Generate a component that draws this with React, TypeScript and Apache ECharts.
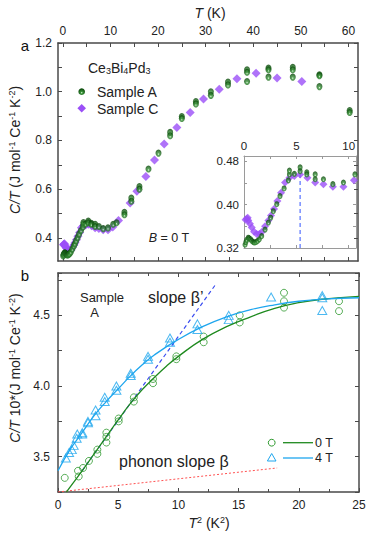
import React, { useEffect, useRef } from "react";
import * as echarts from "echarts";

// ---------- Panel a: C/T vs T (Ce3Bi4Pd3, B = 0) ----------
const lowA_T = [0.1, 0.18, 0.26, 0.41, 0.5, 0.64, 0.75, 0.89, 1.0, 1.15, 1.3, 1.46, 1.69, 2.01, 2.33, 2.55, 2.8, 3.13, 3.44, 3.83, 4.24, 4.34, 4.34, 4.81, 5.36, 5.36, 6.0, 6.0, 6.8, 6.8, 7.59, 8.49, 9.5, 10.6];
const lowA_C = [0.326, 0.331, 0.335, 0.339, 0.338, 0.336, 0.333, 0.331, 0.33, 0.331, 0.333, 0.336, 0.342, 0.354, 0.367, 0.376, 0.388, 0.401, 0.416, 0.43, 0.445, 0.456, 0.463, 0.457, 0.469, 0.462, 0.46, 0.456, 0.456, 0.447, 0.447, 0.438, 0.441, 0.456];
const lowC_T = [0.15, 0.26, 0.35, 0.41, 0.57, 0.74, 0.96, 1.21, 1.47, 1.72, 2.01, 2.33, 2.58, 2.87, 3.19, 3.54, 3.92, 4.34, 4.81, 5.36, 6.06, 6.8, 7.59, 8.49, 9.5, 10.5];
const lowC_C = [0.372, 0.374, 0.376, 0.371, 0.365, 0.358, 0.35, 0.346, 0.346, 0.35, 0.36, 0.371, 0.38, 0.392, 0.407, 0.422, 0.441, 0.45, 0.453, 0.456, 0.45, 0.441, 0.438, 0.433, 0.433, 0.445];
const highA_T = [11.3, 12.95, 12.95, 14.4, 14.4, 16.1, 16.1, 18.0, 20.1, 22.55, 22.55, 25.0, 25.0, 27.96, 27.96, 31.1, 31.1, 34.7, 34.7, 38.7, 38.7, 38.7, 43.2, 43.2, 43.2, 48.3, 48.3, 48.3, 53.9, 53.9, 53.9, 60.25, 60.25];
const highA_C = [0.462, 0.505, 0.495, 0.564, 0.55, 0.611, 0.6, 0.683, 0.748, 0.833, 0.819, 0.898, 0.89, 0.96, 0.95, 1.0, 0.985, 1.04, 1.028, 1.09, 1.08, 1.042, 1.097, 1.09, 1.06, 1.1, 1.09, 1.06, 1.07, 1.066, 1.021, 0.923, 0.915];
const highC_T = [11.7, 14.15, 15.56, 17.45, 19.27, 21.3, 23.96, 26.76, 29.56, 32.86, 36.58, 40.6, 45.0, 50.2];
const highC_C = [0.471, 0.543, 0.591, 0.652, 0.72, 0.785, 0.853, 0.915, 0.97, 1.01, 1.053, 1.076, 1.056, 1.042];
const peakT = 5.36;
const peakC = 0.465;

const topXTicks = [0, 5, 10, 15, 20, 25, 30, 35, 40, 45, 50, 55, 60];
const topXLabels = [0, 10, 20, 30, 40, 50, 60];
const topYTicks = [0.4, 0.5, 0.6, 0.7, 0.8, 0.9, 1.0, 1.1, 1.2];
const topYLabels = [0.4, 0.6, 0.8, 1.0, 1.2];
const insetXTicks = [0, 2.5, 5, 7.5, 10];
const insetXLabels = [0, 5, 10];
const insetYTicks = [0.32, 0.36, 0.4, 0.44, 0.48];
const insetYLabels = [0.32, 0.4, 0.48];

// ---------- Panel b: C/T vs T^2 (Sample A) ----------
const T2_0T = [0.56, 1.66, 1.72, 2.08, 2.57, 3.27, 3.27, 4.02, 4.02, 4.02, 5.04, 5.04, 6.3, 6.3, 7.89, 7.89, 9.83, 9.83, 12.1, 12.1, 15.09, 15.09, 18.77, 18.77, 18.77, 23.34, 23.34];
const CT_0T = [3.35, 3.4, 3.36, 3.42, 3.47, 3.52, 3.55, 3.6, 3.64, 3.67, 3.75, 3.77, 3.89, 3.92, 4.02, 4.05, 4.19, 4.21, 4.31, 4.35, 4.45, 4.5, 4.555, 4.6, 4.66, 4.53, 4.6];
const T2_4T = [0.65, 0.92, 1.15, 1.3, 1.55, 1.6, 2.0, 2.02, 2.49, 2.49, 3.12, 3.12, 3.88, 3.88, 4.85, 4.85, 6.04, 6.04, 7.48, 7.48, 9.3, 9.3, 11.58, 11.58, 14.18, 14.18, 17.7, 21.95, 21.95, 21.95];
const CT_4T = [3.49, 3.53, 3.55, 3.58, 3.63, 3.66, 3.66, 3.67, 3.74, 3.75, 3.79, 3.83, 3.89, 3.92, 3.97, 4.0, 4.075, 4.09, 4.19, 4.21, 4.31, 4.34, 4.4, 4.44, 4.47, 4.5, 4.63, 4.535, 4.625, 4.64];
const fit0T_x = [0.7, 1, 2, 3, 4, 5, 6, 7, 8, 9, 10, 12, 14, 16, 18, 20, 22, 25];
const fit0T_y = [3.25, 3.285, 3.4, 3.52, 3.64, 3.76, 3.875, 3.975, 4.06, 4.14, 4.21, 4.33, 4.42, 4.49, 4.55, 4.59, 4.615, 4.635];
const fit4T_x = [0, 1, 2, 3, 4, 5, 6, 7, 8, 10, 12, 14, 16, 18, 20, 22, 25];
const fit4T_y = [3.4, 3.55, 3.67, 3.79, 3.89, 3.98, 4.07, 4.15, 4.22, 4.33, 4.42, 4.49, 4.54, 4.575, 4.6, 4.615, 4.625];
const betaPrime_x = [2, 13.1];
const betaPrime_y = [3.4, 4.72];
const betaPhonon_x = [0, 18.2];
const betaPhonon_y = [3.25, 3.42];

const FONT = "Liberation Sans, Arial, sans-serif";
const FRAME = "#4a4a4a";
const INSET = "#9a9a9a";
const PURPLE = "#9b4ff7";
const GREEN_B = "#2f9a2f";
const BLUE_B = "#1ea6ee";

const zip = (a: number[], b: number[]) => a.map((v, i) => [v, b[i]]);

const sphere = () =>
  new echarts.graphic.RadialGradient(0.5, 0.65, 0.55, [
    { offset: 0, color: "#e6f7e0" },
    { offset: 0.3, color: "#3b963b" },
    { offset: 1, color: "#0c4d0c" },
  ]);

function axisBase(color: string, width: number) {
  return {
    axisLine: { show: true, onZero: false, lineStyle: { color, width } },
    splitLine: { show: false },
  };
}

export default function App() {
  const ref = useRef<HTMLDivElement>(null);
  useEffect(() => {
    if (!ref.current) return;
    const chart = echarts.init(ref.current, undefined, { renderer: "svg" });
    const lblStyle = { color: "#222", fontSize: 12, fontFamily: FONT };
    const tick = (vals: number[] | null, color: string, len = 4) => ({
      show: true,
      inside: true,
      length: len,
      lineStyle: { color, width: 1 },
      ...(vals ? { customValues: vals } : {}),
    });
    const allA_T = lowA_T.concat(highA_T);
    const allA_C = lowA_C.concat(highA_C);
    const allC_T = lowC_T.concat(highC_T);
    const allC_C = lowC_C.concat(highC_C);

    const supS = { fontSize: 9, fontFamily: FONT, fill: "#222", padding: [0, 0, 7, 0] };
    const subS = { fontSize: 9, fontFamily: FONT, fill: "#222", padding: [6, 0, 0, 0] };

    const option: any = {
      animation: false,
      textStyle: { fontFamily: FONT },
      grid: [
        { left: 58, top: 43, width: 300, height: 218 },
        { left: 58, top: 273, width: 301, height: 219 },
        { left: 244, top: 156, width: 112, height: 92, show: true, backgroundColor: "#fff", borderWidth: 0 },
      ],
      xAxis: [
        {
          gridIndex: 0, type: "value", position: "top", min: -1, max: 62,
          ...axisBase(FRAME, 1.5),
          axisTick: tick(topXTicks, FRAME),
          axisLabel: { ...lblStyle, margin: 6, customValues: topXLabels },
        },
        {
          gridIndex: 0, type: "value", position: "bottom", min: -1, max: 62,
          ...axisBase(FRAME, 1.5),
          axisTick: tick(topXTicks, FRAME),
          axisLabel: { show: false },
        },
        {
          gridIndex: 1, type: "value", position: "bottom", min: 0, max: 25, interval: 5,
          ...axisBase(FRAME, 1.5),
          axisTick: tick(null, FRAME),
          minorTick: { show: true, splitNumber: 2, length: 3, lineStyle: { color: FRAME } },
          axisLabel: { ...lblStyle, margin: 7 },
          name: "", 
        },
        {
          gridIndex: 1, type: "value", position: "top", min: 0, max: 25, interval: 5,
          ...axisBase(FRAME, 1.5),
          axisTick: tick(null, FRAME),
          minorTick: { show: true, splitNumber: 2, length: 3, lineStyle: { color: FRAME } },
          axisLabel: { show: false },
        },
        {
          gridIndex: 2, type: "value", position: "top", min: 0, max: 10.7,
          ...axisBase(INSET, 1),
          axisTick: tick(insetXTicks, INSET, 3),
          axisLabel: { ...lblStyle, fontSize: 11.5, margin: 4, customValues: insetXLabels },
        },
        {
          gridIndex: 2, type: "value", position: "bottom", min: 0, max: 10.7,
          ...axisBase(INSET, 1),
          axisTick: tick(insetXTicks, INSET, 3),
          axisLabel: { show: false },
        },
      ],
      yAxis: [
        {
          gridIndex: 0, type: "value", position: "left", min: 0.305, max: 1.2,
          ...axisBase(FRAME, 1.5),
          axisTick: tick(topYTicks, FRAME),
          axisLabel: { ...lblStyle, margin: 6, customValues: topYLabels, formatter: (v: number) => v.toFixed(1) },
        },
        {
          gridIndex: 0, type: "value", position: "right", min: 0.305, max: 1.2,
          ...axisBase(FRAME, 1.5),
          axisTick: tick(topYTicks, FRAME),
          axisLabel: { show: false },
        },
        {
          gridIndex: 1, type: "value", position: "left", min: 3.25, max: 4.8, interval: 0.25,
          ...axisBase(FRAME, 1.5),
          axisTick: tick(null, FRAME),
          axisLabel: {
            ...lblStyle, margin: 8,
            formatter: (v: number) => (Math.abs(v * 2 - Math.round(v * 2)) < 1e-6 ? v.toFixed(1) : ""),
          },
        },
        {
          gridIndex: 1, type: "value", position: "right", min: 3.25, max: 4.8, interval: 0.25,
          ...axisBase(FRAME, 1.5),
          axisTick: tick(null, FRAME),
          axisLabel: { show: false },
        },
        {
          gridIndex: 2, type: "value", position: "left", min: 0.32, max: 0.49,
          ...axisBase(INSET, 1),
          axisTick: tick(insetYTicks, INSET, 3),
          axisLabel: { ...lblStyle, fontSize: 11.5, margin: 5, customValues: insetYLabels, formatter: (v: number) => v.toFixed(2) },
        },
        {
          gridIndex: 2, type: "value", position: "right", min: 0.32, max: 0.49,
          ...axisBase(INSET, 1),
          axisTick: tick(insetYTicks, INSET, 3),
          axisLabel: { show: false },
        },
      ],
      series: [
        {
          type: "scatter", xAxisIndex: 0, yAxisIndex: 0, data: zip(allC_T, allC_C),
          symbol: "diamond", symbolSize: [9, 9], itemStyle: { color: PURPLE }, z: 2,
        },
        {
          type: "scatter", xAxisIndex: 0, yAxisIndex: 0, data: zip(allA_T, allA_C),
          symbol: "circle", symbolSize: [6, 7], itemStyle: { color: sphere() }, z: 3,
        },
        {
          type: "line", xAxisIndex: 4, yAxisIndex: 4, data: [[peakT, 0.32], [peakT, peakC]],
          showSymbol: false, lineStyle: { color: "#3355ff", width: 1, type: [4, 3] }, z: 1,
        },
        {
          type: "scatter", xAxisIndex: 4, yAxisIndex: 4, data: zip(lowC_T, lowC_C),
          symbol: "diamond", symbolSize: [8, 8], itemStyle: { color: PURPLE }, z: 2,
        },
        {
          type: "scatter", xAxisIndex: 4, yAxisIndex: 4, data: zip(lowA_T, lowA_C),
          symbol: "circle", symbolSize: [5, 6], itemStyle: { color: sphere() }, z: 3,
        },
        {
          type: "line", xAxisIndex: 2, yAxisIndex: 2, data: zip(betaPhonon_x, betaPhonon_y),
          showSymbol: false, lineStyle: { color: "#ff5050", width: 1, type: [2, 2] },
        },
        {
          type: "line", xAxisIndex: 2, yAxisIndex: 2, data: zip(betaPrime_x, betaPrime_y),
          showSymbol: false, lineStyle: { color: "#3a4cf0", width: 1.2, type: [4, 3] },
        },
        {
          type: "line", xAxisIndex: 2, yAxisIndex: 2, data: zip(fit0T_x, fit0T_y), smooth: true,
          showSymbol: false, lineStyle: { color: "#1f8a1f", width: 1.3 },
        },
        {
          type: "line", xAxisIndex: 2, yAxisIndex: 2, data: zip(fit4T_x, fit4T_y), smooth: true,
          showSymbol: false, lineStyle: { color: BLUE_B, width: 1.3 },
        },
        {
          type: "scatter", xAxisIndex: 2, yAxisIndex: 2, data: zip(T2_0T, CT_0T),
          symbol: "circle", symbolSize: 7,
          itemStyle: { color: "rgba(0,0,0,0)", borderColor: GREEN_B, borderWidth: 1 },
        },
        {
          type: "scatter", xAxisIndex: 2, yAxisIndex: 2, data: zip(T2_4T, CT_4T),
          symbol: "triangle", symbolSize: [9, 8],
          itemStyle: { color: "rgba(0,0,0,0)", borderColor: BLUE_B, borderWidth: 1 },
        },
      ],
      graphic: [
        // panel letters
        { type: "text", x: 25, y: 45, style: { text: "a", font: `15px ${FONT}`, fill: "#111", align: "center", verticalAlign: "middle" } },
        { type: "text", x: 25, y: 275, style: { text: "b", font: `15px ${FONT}`, fill: "#111", align: "center", verticalAlign: "middle" } },
        // top axis title
        {
          type: "text", x: 210, y: 13,
          style: {
            text: "{i|T} (K)", font: `14px ${FONT}`, fill: "#222", align: "center", verticalAlign: "middle",
            rich: { i: { fontStyle: "italic", fontSize: 14, fontFamily: FONT, fill: "#222" } },
          },
        },
        // top y title
        {
          type: "text", x: 15, y: 150, rotation: Math.PI / 2,
          style: {
            text: "{i|C/T} (J mol{s|-1} Ce{s|-1} K{s|-2})", font: `14px ${FONT}`, fill: "#222", align: "center", verticalAlign: "middle",
            rich: { i: { fontStyle: "italic", fontSize: 14, fontFamily: FONT, fill: "#222" }, s: supS },
          },
        },
        // bottom y title
        {
          type: "text", x: 15, y: 368, rotation: Math.PI / 2,
          style: {
            text: "{i|C/T} 10*(J mol{s|-1} Ce{s|-1} K{s|-2})", font: `14px ${FONT}`, fill: "#222", align: "center", verticalAlign: "middle",
            rich: { i: { fontStyle: "italic", fontSize: 14, fontFamily: FONT, fill: "#222" }, s: supS },
          },
        },
        // bottom x title
        {
          type: "text", x: 209, y: 523,
          style: {
            text: "{i|T}{s|2} (K{s|2})", font: `14px ${FONT}`, fill: "#222", align: "center", verticalAlign: "middle",
            rich: { i: { fontStyle: "italic", fontSize: 14, fontFamily: FONT, fill: "#222" }, s: supS },
          },
        },
        // top legend
        {
          type: "text", x: 88, y: 68,
          style: {
            text: "Ce{b|3}Bi{b|4}Pd{b|3}", font: `14px ${FONT}`, fill: "#222", align: "left", verticalAlign: "middle",
            rich: { b: subS },
          },
        },
        { type: "circle", shape: { cx: 81.7, cy: 91.7, r: 3.3 }, style: { fill: sphere() } },
        { type: "text", x: 97, y: 92, style: { text: "Sample A", font: `14px ${FONT}`, fill: "#222", align: "left", verticalAlign: "middle" } },
        {
          type: "polygon",
          shape: { points: [[81.7, 104], [86, 108.3], [81.7, 112.6], [77.4, 108.3]] },
          style: { fill: PURPLE },
        },
        { type: "text", x: 97, y: 108.5, style: { text: "Sample C", font: `14px ${FONT}`, fill: "#222", align: "left", verticalAlign: "middle" } },
        {
          type: "text", x: 169, y: 238,
          style: {
            text: "{i|B} = 0 T", font: `12.5px ${FONT}`, fill: "#222", align: "center", verticalAlign: "middle",
            rich: { i: { fontStyle: "italic", fontSize: 12.5, fontFamily: FONT, fill: "#222" } },
          },
        },
        // bottom panel labels
        { type: "text", x: 102, y: 297.7, style: { text: "Sample", font: `13px ${FONT}`, fill: "#222", align: "center", verticalAlign: "middle" } },
        { type: "text", x: 94.5, y: 312, style: { text: "A", font: `13px ${FONT}`, fill: "#222", align: "center", verticalAlign: "middle" } },
        { type: "text", x: 148, y: 297.7, style: { text: "slope β’", font: `16px ${FONT}`, fill: "#222", align: "left", verticalAlign: "middle" } },
        { type: "text", x: 119, y: 461.5, style: { text: "phonon slope β", font: `16px ${FONT}`, fill: "#222", align: "left", verticalAlign: "middle" } },
        // bottom legend
        { type: "circle", shape: { cx: 271.7, cy: 442.7, r: 3.4 }, style: { fill: "none", stroke: GREEN_B, lineWidth: 1 } },
        { type: "line", shape: { x1: 283, y1: 442.7, x2: 313, y2: 442.7 }, style: { stroke: "#1f8a1f", lineWidth: 1.3 } },
        { type: "text", x: 315, y: 443, style: { text: "0 T", font: `12.5px ${FONT}`, fill: "#222", align: "left", verticalAlign: "middle" } },
        {
          type: "polygon",
          shape: { points: [[271.7, 453.5], [276, 461], [267.4, 461]] },
          style: { fill: "none", stroke: BLUE_B, lineWidth: 1 },
        },
        { type: "line", shape: { x1: 283, y1: 458, x2: 313, y2: 458 }, style: { stroke: BLUE_B, lineWidth: 1.3 } },
        { type: "text", x: 315, y: 458, style: { text: "4 T", font: `12.5px ${FONT}`, fill: "#222", align: "left", verticalAlign: "middle" } },
      ],
    };
    chart.setOption(option);
    return () => chart.dispose();
  }, []);
  return <div ref={ref} style={{ position: "fixed", left: 0, top: 0, width: 373, height: 537, background: "#fff" }} />;
}
